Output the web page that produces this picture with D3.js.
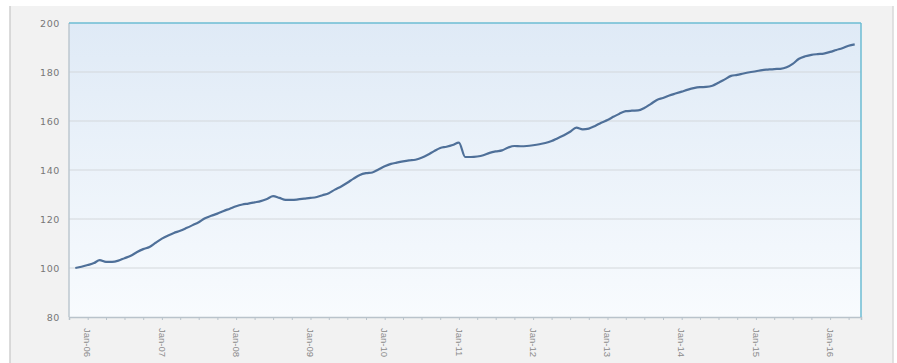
<!DOCTYPE html>
<html>
<head>
<meta charset="utf-8">
<script src="https://cdn.jsdelivr.net/npm/d3@7"></script>
<style>
  body { margin: 0; background: #fff; }
  svg { display: block; }
</style>
</head>
<body>
<svg id="chart"></svg>
<script>
// monthly index values, Nov-2005 .. Apr-2016
const startMonth = '2005-11';
const values = [
  100.0, 100.5, 101.2, 102.0, 103.2, 102.5, 102.5, 103.0, 104.0, 105.0,
  106.5, 107.7, 108.6, 110.3, 112.0, 113.3, 114.3, 115.2, 116.3, 117.5,
  118.7, 120.3, 121.3, 122.2, 123.3, 124.2, 125.2, 125.9, 126.3, 126.8,
  127.3, 128.2, 129.3, 128.6, 127.8, 127.8, 128.0, 128.3, 128.6, 129.0,
  129.7, 130.5, 132.0, 133.3, 134.8, 136.5, 138.0, 138.7, 139.0, 140.2,
  141.5, 142.5, 143.0, 143.5, 143.9, 144.2, 145.0, 146.2, 147.7, 149.0,
  149.5, 150.2, 151.2, 145.3, 145.3, 145.5, 146.0, 147.0, 147.6, 148.0,
  149.2, 149.8, 149.7, 149.8, 150.1, 150.5, 151.0, 151.8, 153.0, 154.2,
  155.6, 157.3, 156.6, 156.9, 158.0, 159.3, 160.4, 161.8, 163.0, 164.0,
  164.2, 164.3, 165.3, 166.9, 168.6, 169.4, 170.4, 171.2, 172.0, 172.8,
  173.4, 173.8, 173.9, 174.4, 175.6, 177.0, 178.4, 178.8, 179.4, 179.9,
  180.3, 180.8, 181.0, 181.2, 181.3, 181.9, 183.3, 185.4, 186.4, 187.0,
  187.3, 187.5, 188.2, 189.0, 189.7, 190.7, 191.3
];
const yTicks = [80, 100, 120, 140, 160, 180, 200];
const xLabelYears = d3.range(2006, 2017);
const xDomain = [new Date(2005, 9, 1), new Date(2016, 5, 1)];

const width = 897, height = 363;
const m = { left: 69, right: 861, top: 23, bottom: 317 };

const parse = d3.timeParse('%Y-%m');
const t0 = parse(startMonth);
const data = values.map((v, i) => ({ date: d3.timeMonth.offset(t0, i), value: v }));

const svg = d3.select('#chart').attr('width', width).attr('height', height);

// page background
svg.append('rect').attr('x', 10).attr('y', 6).attr('width', 883).attr('height', height - 6)
  .attr('fill', '#f2f2f2');
svg.append('line').attr('x1', 10).attr('x2', 10).attr('y1', 6).attr('y2', height)
  .attr('stroke', '#cfcfcf').attr('stroke-width', 1.5);
svg.append('line').attr('x1', 893).attr('x2', 893).attr('y1', 6).attr('y2', height)
  .attr('stroke', '#d8d8d8').attr('stroke-width', 1.5);

const defs = svg.append('defs');
const grad = defs.append('linearGradient').attr('id', 'bg')
  .attr('x1', 0).attr('y1', 0).attr('x2', 0).attr('y2', 1);
grad.append('stop').attr('offset', '0%').attr('stop-color', '#dfeaf6');
grad.append('stop').attr('offset', '100%').attr('stop-color', '#f8fbfe');

const x = d3.scaleTime().domain(xDomain).range([m.left, m.right]);
const y = d3.scaleLinear().domain([80, 200]).range([m.bottom, m.top]);

svg.append('rect')
  .attr('x', m.left).attr('y', m.top)
  .attr('width', m.right - m.left).attr('height', m.bottom - m.top)
  .attr('fill', 'url(#bg)');

// grid lines
svg.append('g')
  .selectAll('line')
  .data(yTicks.filter(d => d > 80 && d < 200))
  .enter()
  .append('line')
  .attr('x1', m.left).attr('x2', m.right)
  .attr('y1', d => y(d)).attr('y2', d => y(d))
  .attr('stroke', '#d3d7db').attr('stroke-width', 1.2);

// y axis labels
const yAxis = svg.append('g')
  .attr('transform', `translate(${m.left}, 0)`)
  .call(d3.axisLeft(y).tickValues(yTicks).tickSize(0).tickPadding(9));
yAxis.select('.domain').remove();
yAxis.selectAll('text')
  .attr('fill', '#777')
  .style('font-family', 'DejaVu Sans, sans-serif')
  .style('font-size', '9.5px')
  .style('letter-spacing', '0.6px');

// x axis: quarterly ticks, yearly labels
const xAxis = svg.append('g')
  .attr('transform', `translate(0, ${m.bottom})`)
  .call(d3.axisBottom(x).ticks(d3.timeMonth.every(3)).tickSize(3).tickFormat(''));
xAxis.select('.domain').attr('stroke', '#b9c3cb').attr('stroke-width', 1.5);
xAxis.selectAll('.tick line').attr('stroke', '#b9c3cb');

svg.append('g')
  .selectAll('text')
  .data(xLabelYears)
  .enter()
  .append('text')
  .attr('transform', d => `translate(${x(new Date(d, 0, 1))}, ${m.bottom + 11}) rotate(90)`)
  .attr('dy', '0.35em')
  .attr('fill', '#8a8a8a')
  .style('font-family', 'Liberation Sans, Arial, sans-serif')
  .style('font-size', '9.5px')
  .text(d => 'Jan-' + String(d % 100).padStart(2, '0'));

// plot borders
svg.append('line').attr('x1', m.left).attr('x2', m.left).attr('y1', m.top).attr('y2', m.bottom)
  .attr('stroke', '#bcc7cf').attr('stroke-width', 1.5);
svg.append('line').attr('x1', m.left).attr('x2', m.right).attr('y1', m.top).attr('y2', m.top)
  .attr('stroke', '#6cbcd3').attr('stroke-width', 1.5);
svg.append('line').attr('x1', m.right).attr('x2', m.right).attr('y1', m.top).attr('y2', m.bottom)
  .attr('stroke', '#6cbcd3').attr('stroke-width', 1.5);

// series line
const line = d3.line()
  .x(d => x(d.date))
  .y(d => y(d.value))
  .curve(d3.curveMonotoneX);

svg.append('path')
  .datum(data)
  .attr('d', line)
  .attr('fill', 'none')
  .attr('stroke', '#4f7099')
  .attr('stroke-width', 2.2)
  .attr('stroke-linejoin', 'round');
</script>
</body>
</html>
